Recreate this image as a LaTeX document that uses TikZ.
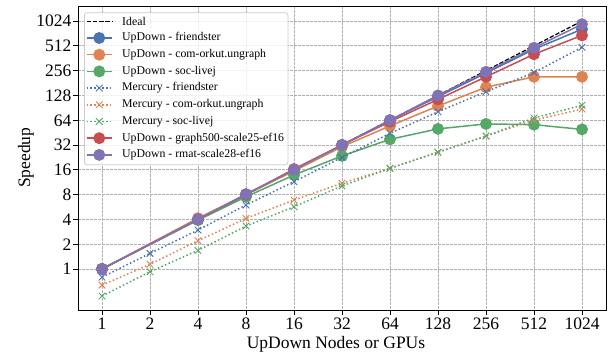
\documentclass[tikz,border=0pt]{standalone}
\usepackage{fontspec}
\setmainfont{Liberation Serif}
\definecolor{cblue}{HTML}{4C72B0}
\definecolor{corange}{HTML}{DD8452}
\definecolor{cgreen}{HTML}{55A868}
\definecolor{cred}{HTML}{C44E52}
\definecolor{cpurple}{HTML}{8172B3}
\definecolor{gridc}{HTML}{B0B0B0}
\tikzset{
  gridline/.style={gridc, line width=0.8pt, dash pattern=on 2.8pt off 1.2pt},
  updown/.style={#1, line width=1.5pt, solid, mark=*, mark size=5.2pt,
    mark options={solid, fill=#1, draw=none}},
  mercury/.style={#1, line width=1.5pt, dash pattern=on 1.5pt off 2.4pt, mark=x, mark size=4.6pt,
    mark options={solid, draw=#1, line width=0.9pt}},
  idealline/.style={black, line width=1.2pt, dash pattern=on 4.4pt off 1.9pt},
  ticklab/.style={inner sep=0pt, font=\fontsize{17.5}{20}\selectfont},
  legtext/.style={anchor=west, inner sep=0pt, font=\fontsize{11.8}{14}\selectfont},
}
\begin{document}
\begin{tikzpicture}[x=1pt,y=-1pt]
\useasboundingbox (0,0) rectangle (616,358);
\fill[white] (0,0) rectangle (616,358);
% grid
\foreach \i in {0,...,10} \draw[gridline] (102+48*\i,6) -- (102+48*\i,310);
\foreach \l in {0,...,10} \draw[gridline] (78,269-24.8*\l) -- (606,269-24.8*\l);
% x ticks
\foreach \i/\t in {0/1,1/2,2/4,3/8,4/16,5/32,6/64,7/128,8/256,9/512,10/1024} {
  \draw[line width=0.9pt] (102+48*\i,310) -- (102+48*\i,315);
  \node[ticklab, anchor=base] (xt\i) at (102+48*\i,329.5) {\t};
}
% y ticks
\foreach \l/\t in {0/1,1/2,2/4,3/8,4/16,5/32,6/64,7/128,8/256,9/512,10/1024} {
  \draw[line width=0.9pt] (73,269-24.8*\l) -- (78,269-24.8*\l);
  \node[ticklab, anchor=base east] (yt\l) at (71.5,275-24.8*\l) {\t};
}
\node[ticklab, anchor=base] (xlab) at (336,348.3) {UpDown Nodes or GPUs};
\node[ticklab, anchor=base, rotate=90] (ylab) at (30,157.8) {Speedup};
% data
\begin{scope}[xshift=102pt, yshift=-269pt, x=48pt, y=24.8pt]
\draw[idealline] (0,0) -- (10,10);
\draw[updown=cblue] plot coordinates {(0,0) (2,2) (3,3) (4,4) (5,5) (6,6) (7,6.95) (8,7.9) (9,8.86) (10,9.67)};
\draw[updown=corange] plot coordinates {(0,0) (2,2.05) (3,3) (4,3.95) (5,4.93) (6,5.77) (7,6.57) (8,7.33) (9,7.75) (10,7.75)};
\draw[updown=cgreen] plot coordinates {(0,0) (2,1.97) (3,2.91) (4,3.79) (5,4.56) (6,5.23) (7,5.65) (8,5.85) (9,5.82) (10,5.63)};
\draw[mercury=cblue] plot coordinates {(0,-0.33) (1,0.63) (2,1.57) (3,2.58) (4,3.52) (5,4.5) (6,5.47) (7,6.34) (8,7.15) (9,7.92) (10,8.94)};
\draw[mercury=corange] plot coordinates {(0,-0.65) (1,0.19) (2,1.14) (3,2.04) (4,2.78) (5,3.46) (6,4.06) (7,4.71) (8,5.36) (9,6.0) (10,6.45)};
\draw[mercury=cgreen] plot coordinates {(0,-1.09) (1,-0.11) (2,0.75) (3,1.73) (4,2.51) (5,3.35) (6,4.06) (7,4.71) (8,5.36) (9,6.09) (10,6.6)};
\draw[updown=cred] plot coordinates {(0,0) (2,2) (3,3) (4,4.03) (5,5.0) (6,5.94) (7,6.84) (8,7.75) (9,8.66) (10,9.42)};
\draw[updown=cpurple] plot coordinates {(0,0) (2,2) (3,3.02) (4,4) (5,5) (6,6) (7,7) (8,7.95) (9,8.92) (10,9.87)};
\end{scope}
% axes frame
\node[draw, line width=1.1pt, inner sep=0pt, minimum width=528pt, minimum height=304pt, anchor=north west] (frame) at (78,6) {};
% legend
\node[draw=black!20, fill=white, fill opacity=0.8, draw opacity=1, rounded corners=2.5pt, line width=0.8pt, inner sep=0pt,
  minimum width=203.5pt, minimum height=152pt, anchor=north west] (legend) at (84,12.3) {};
\coordinate (la0) at (86.5,21.3); \coordinate (lb0) at (112,21.3);
\draw[idealline] (la0) -- (lb0);
\node[legtext] (lt0) at (122,21.3) {Ideal};
\foreach \k/\sty/\c/\txt in {
  1/updown/cblue/UpDown - friendster,
  2/updown/corange/UpDown - com-orkut.ungraph,
  3/updown/cgreen/UpDown - soc-livej,
  4/mercury/cblue/Mercury - friendster,
  5/mercury/corange/Mercury - com-orkut.ungraph,
  6/mercury/cgreen/Mercury - soc-livej,
  7/updown/cred/UpDown - graph500-scale25-ef16,
  8/updown/cpurple/UpDown - rmat-scale28-ef16} {
  \coordinate (la\k) at (86.5,21.3+16.7*\k);
  \coordinate (lb\k) at (112,21.3+16.7*\k);
  \coordinate (lm\k) at (99.25,21.3+16.7*\k);
  \draw[\sty=\c] (la\k) -- (lb\k);
  \draw[\sty=\c] plot coordinates {(lm\k)};
  \node[legtext] (lt\k) at (122,21.3+16.7*\k) {\txt};
}
\end{tikzpicture}
\end{document}
